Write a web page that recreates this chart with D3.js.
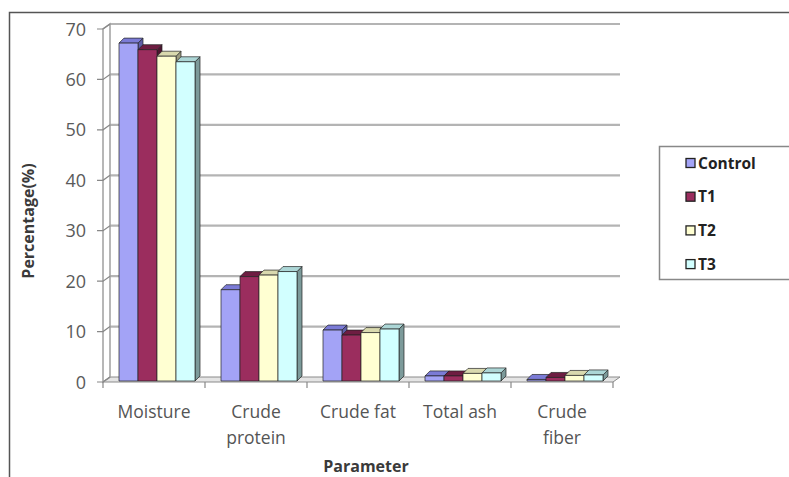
<!DOCTYPE html>
<html>
<head>
<meta charset="utf-8">
<script src="https://cdn.jsdelivr.net/npm/d3@7"></script>
<style>
  body { margin: 0; background: #fff; }
  svg { display: block; }
</style>
</head>
<body>
<main></main>
<script>
const categories = ["Moisture", "Crude protein", "Crude fat", "Total ash", "Crude fiber"];
const seriesNames = ["Control", "T1", "T2", "T3"];
const control = [67.2, 18.3, 10.3, 1.2, 0.5];
const t1 = [65.9, 20.9, 9.3, 1.2, 0.9];
const t2 = [64.6, 21.2, 9.8, 1.7, 1.3];
const t3 = [63.5, 21.9, 10.5, 1.8, 1.4];
const yTicks = [0, 10, 20, 30, 40, 50, 60, 70];

const svgWidth = 789,
  svgHeight = 477,
  xScale = d3.scaleBand().domain(categories).range([103, 613]),
  yScale = d3.scaleLinear().domain([0, 70]).range([382, 29]);

const values = [control, t1, t2, t3];
// front / top / side colours for each series
const faces = [
  { front: "#a3a3f6", top: "#7b7bd6", side: "#5f5fa8" },
  { front: "#9b2d5e", top: "#6e1d42", side: "#4e1530" },
  { front: "#ffffd2", top: "#d9d9ae", side: "#9c9c80" },
  { front: "#d2ffff", top: "#acd6d6", side: "#7c9a9a" }
];

// wall depth and bar depth (pseudo 3d)
const wdx = 7, wdy = -5, bdx = 5, bdy = -5;
const barW = 19, barOff = 16;

const svg = d3
  .select("main")
  .append("svg")
  .attr("width", svgWidth)
  .attr("height", svgHeight);

// outer chart border, cut off on right/bottom
svg.append("rect")
  .attr("x", 9.5).attr("y", 12.5)
  .attr("width", 900).attr("height", 600)
  .attr("fill", "none").attr("stroke", "#555").attr("stroke-width", 1.5);

const x0 = xScale.range()[0], x1 = xScale.range()[1];

// back wall gridlines
svg.append("g")
  .selectAll("line")
  .data(yTicks.slice(1))
  .join("line")
  .attr("x1", x0 + wdx).attr("x2", x1 + wdx)
  .attr("y1", d => yScale(d) + wdy).attr("y2", d => yScale(d) + wdy)
  .attr("stroke", "#b4b4b4").attr("stroke-width", 2.2);

// floor
svg.append("polygon")
  .attr("points", `${x0},${yScale(0)} ${x1},${yScale(0)} ${x1 + wdx},${yScale(0) + wdy} ${x0 + wdx},${yScale(0) + wdy}`)
  .attr("fill", "#e4e4e4").attr("stroke", "#8a8a8a").attr("stroke-width", 1);

// left wall
svg.append("polygon")
  .attr("points", `${x0},${yScale(0)} ${x0 + wdx},${yScale(0) + wdy} ${x0 + wdx},${yScale(70) + wdy} ${x0},${yScale(70)}`)
  .attr("fill", "none").attr("stroke", "#a0a0a0").attr("stroke-width", 1.5);

// y ticks: short mark plus diagonal into the wall
const yt = svg.append("g");
yt.selectAll("path")
  .data(yTicks)
  .join("path")
  .attr("d", d => `M${x0 - 6},${yScale(d)} L${x0},${yScale(d)} L${x0 + wdx},${yScale(d) + wdy}`)
  .attr("fill", "none").attr("stroke", "#888").attr("stroke-width", 1.2);
yt.selectAll("text")
  .data(yTicks)
  .join("text")
  .attr("x", 86).attr("y", d => yScale(d) + 6.5)
  .attr("text-anchor", "end")
  .attr("font-family", "Open Sans, sans-serif").attr("font-size", 18)
  .attr("fill", "#5a5a5a")
  .text(d => d);

// category ticks
svg.append("g")
  .selectAll("line")
  .data(categories.concat(["end"]))
  .join("line")
  .attr("x1", (d, i) => x0 + i * xScale.bandwidth())
  .attr("x2", (d, i) => x0 + i * xScale.bandwidth())
  .attr("y1", yScale(0)).attr("y2", yScale(0) + 6)
  .attr("stroke", "#888").attr("stroke-width", 1.2);

// bars
const bars = svg.append("g");
categories.forEach((cat, ci) => {
  values.forEach((vals, si) => {
    const bx = xScale(cat) + barOff + si * barW,
      by = yScale(vals[ci]),
      base = yScale(0) - 1,
      f = faces[si];
    const g = bars.append("g")
      .attr("stroke", "#222").attr("stroke-width", 0.7).attr("stroke-linejoin", "round");
    g.append("polygon")
      .attr("points", `${bx + barW},${base} ${bx + barW + bdx},${base + bdy} ${bx + barW + bdx},${by + bdy} ${bx + barW},${by}`)
      .attr("fill", f.side);
    g.append("polygon")
      .attr("points", `${bx},${by} ${bx + bdx},${by + bdy} ${bx + barW + bdx},${by + bdy} ${bx + barW},${by}`)
      .attr("fill", f.top);
    g.append("rect")
      .attr("x", bx).attr("y", by)
      .attr("width", barW).attr("height", Math.max(0, base - by))
      .attr("fill", f.front);
  });
});

// category labels
const catLabels = svg.append("g")
  .attr("font-family", "Open Sans, sans-serif").attr("font-size", 17.5).attr("fill", "#555");
categories.forEach(cat => {
  const words = cat === "Moisture" || cat === "Crude fat" || cat === "Total ash" ? [cat] : cat.split(" ");
  const t = catLabels.append("text")
    .attr("x", xScale(cat) + xScale.bandwidth() / 2)
    .attr("y", 418)
    .attr("text-anchor", "middle");
  words.forEach((w, i) => {
    t.append("tspan")
      .attr("x", xScale(cat) + xScale.bandwidth() / 2)
      .attr("dy", i === 0 ? 0 : 26)
      .text(w);
  });
});

// axis titles
svg.append("text")
  .attr("x", 366).attr("y", 472)
  .attr("text-anchor", "middle")
  .attr("font-family", "Open Sans, sans-serif").attr("font-size", 16).attr("font-weight", "bold")
  .attr("fill", "#3a3a3a")
  .text("Parameter");

svg.append("text")
  .attr("transform", "translate(34,221) rotate(-90)")
  .attr("text-anchor", "middle")
  .attr("font-family", "Open Sans, sans-serif").attr("font-size", 16).attr("font-weight", "bold")
  .attr("fill", "#3a3a3a")
  .text("Percentage(%)");

// legend
const legend = svg.append("g");
legend.append("rect")
  .attr("x", 659.5).attr("y", 146.5)
  .attr("width", 200).attr("height", 133)
  .attr("fill", "#fff").attr("stroke", "#888").attr("stroke-width", 1.5);
const items = legend.selectAll("g.item")
  .data(seriesNames)
  .join("g")
  .attr("class", "item")
  .attr("transform", (d, i) => `translate(686,${163 + i * 33.7})`);
items.append("rect")
  .attr("x", 0).attr("y", -4.5)
  .attr("width", 9).attr("height", 9)
  .attr("fill", (d, i) => faces[i].front)
  .attr("stroke", "#222").attr("stroke-width", 1.3);
items.append("text")
  .attr("x", 12).attr("y", 5.5)
  .attr("font-family", "Open Sans, sans-serif").attr("font-size", 15.5).attr("font-weight", "bold")
  .attr("fill", "#222")
  .text(d => d);
</script>
</body>
</html>
